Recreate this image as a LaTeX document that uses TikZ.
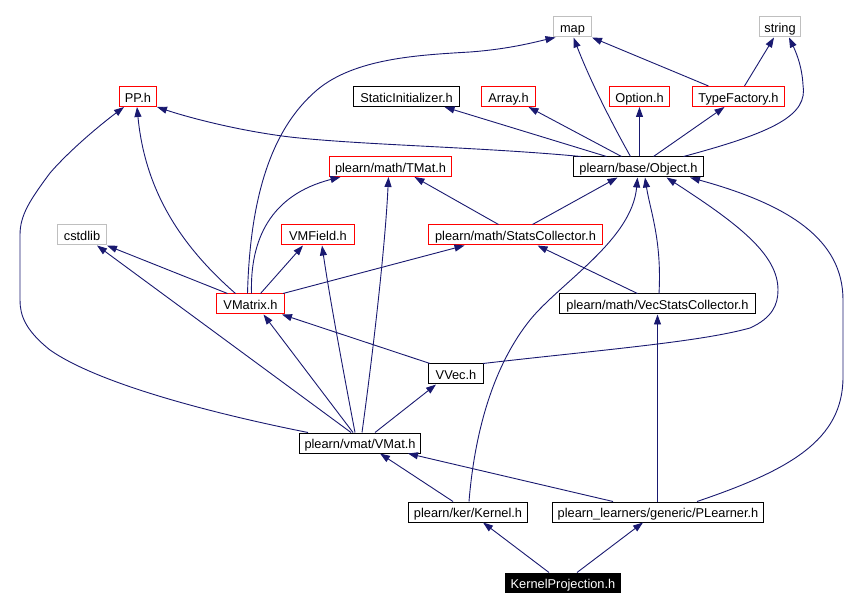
\documentclass[tikz,border=0pt]{standalone}
\usepackage{fontspec}
\setmainfont{Liberation Sans}
\usetikzlibrary{arrows.meta,calc}
\definecolor{edgec}{RGB}{25,25,112}
\definecolor{grayb}{RGB}{191,191,191}
\begin{document}
\begin{tikzpicture}[x=1pt,y=-1pt,
  box/.style={draw, line width=1pt, minimum height=20pt, inner sep=0pt,
    text height=12.6pt, text depth=1pt,
    font=\fontsize{12.8}{14}\selectfont, fill=white},
  redbox/.style={box, draw=red},
  graybox/.style={box, draw=grayb},
  blackbox/.style={box, draw=black},
  selbox/.style={box, draw=black, fill=black, text=white, minimum height=19pt},
  edge/.style={draw=edgec, line width=0.9pt, -{Triangle[length=10pt,width=7pt]}}]
\useasboundingbox (0,0) rectangle (862,609);
% nodes
\node[graybox, minimum width=38pt] (map) at (572.5,27) {map};
\node[graybox, minimum width=41pt] (string) at (780,27) {string};
\node[redbox, minimum width=37pt] (pp) at (138,96.5) {PP.h};
\node[blackbox, minimum width=106pt] (static) at (406.5,96.5) {StaticInitializer.h};
\node[redbox, minimum width=54pt] (array) at (508.5,96.5) {Array.h};
\node[redbox, minimum width=60pt] (option) at (639.5,96.5) {Option.h};
\node[redbox, minimum width=92pt] (tf) at (738.5,96.5) {TypeFactory.h};
\node[blackbox, minimum width=130pt] (obj) at (638.5,167) {plearn/base/Object.h};
\node[redbox, minimum width=122pt] (tmat) at (390.5,166.5) {plearn/math/TMat.h};
\node[graybox, minimum width=49pt] (cstdlib) at (82,235) {cstdlib};
\node[redbox, minimum width=73pt] (vmfield) at (318,235) {VMField.h};
\node[redbox, minimum width=174pt] (stats) at (515.5,235) {plearn/math/StatsCollector.h};
\node[redbox, minimum width=68pt] (vmatrix) at (250.5,304) {VMatrix.h};
\node[blackbox, minimum width=196pt] (vsc) at (657.5,304) {plearn/math/VecStatsCollector.h};
\node[blackbox, minimum width=55pt] (vvec) at (456,374) {VVec.h};
\node[blackbox, minimum width=121pt] (vmat) at (360,443) {plearn/vmat/VMat.h};
\node[blackbox, minimum width=119pt] (kernel) at (468,512) {plearn/ker/Kernel.h};
\node[blackbox, minimum width=211pt] (plearner) at (658,512) {plearn\_learners/generic/PLearner.h};
\node[selbox, minimum width=115pt] (kp) at (563,582.5) {KernelProjection.h};
% edges
\draw[edge] ($(kp.north)+(-14,0)$) -- ($(kernel.south)+(15,0)$);
\draw[edge] ($(kp.north)+(14,0)$) -- ($(plearner.south)+(-15,0)$);
\draw[edge] ($(kernel.north)+(-15,0)$) -- ($(vmat.south)+(20,0)$);
\draw[edge] ($(kernel.north)+(1,0)$) .. controls (474,440) and (490,370) .. (530,320)
  .. controls (560,283) and (632,240) .. ($(obj.south)+(-1,0)$);
\draw[edge] ($(plearner.north)+(-45,0)$) -- ($(vmat.south)+(48,0)$);
\draw[edge] ($(plearner.north)+(-0.5,0)$) -- (vsc.south);
\draw[edge] ($(plearner.north)+(39,0)$) .. controls (790,470) and (843,440) .. (843,377)
  -- (843,300) .. controls (843,240) and (790,205) .. ($(obj.south east)+(-14,0)$);
\draw[edge] ($(vmat.north)+(-52,0)$) .. controls (220,415) and (100,385) .. (50,350)
  .. controls (25,330) and (20,315) .. (20,300) -- (20,235)
  .. controls (20,215) and (30,200) .. (50,173)
  .. controls (70,150) and (100,125) .. ($(pp.south)+(-14,0)$);
\draw[edge] ($(vmat.north)+(-9,0)$) -- ($(cstdlib.south)+(15,0)$);
\draw[edge] ($(vmatrix.north)+(-23,0)$) -- (cstdlib.south east);
\draw[edge] ($(vmat.north)+(-7,0)$) -- ($(vmatrix.south)+(13,0)$);
\draw[edge] ($(vmat.north)+(-5,0)$) .. controls (345,380) and (330,300) .. ($(vmfield.south)+(4,0)$);
\draw[edge] ($(vmat.north)+(2,0)$) .. controls (372,360) and (385,250) .. ($(tmat.south)+(-2,0)$);
\draw[edge] ($(vmat.north)+(15,0)$) -- ($(vvec.south)+(-20,0)$);
\draw[edge] ($(vvec.north west)+(2,0)$) -- ($(vmatrix.south east)+(-3,0)$);
\draw[edge] ($(vvec.north east)+(-1,0)$) .. controls (600,350) and (700,342) .. (750,328)
  .. controls (772,318) and (778,305) .. (778,290)
  .. controls (778,255) and (740,225) .. ($(obj.south)+(28,0)$);
\draw[edge] ($(vmatrix.north east)+(-2,0)$) -- ($(stats.south)+(-51,0)$);
\draw[edge] ($(vmatrix.north)+(10,0)$) -- ($(vmfield.south)+(-15,0)$);
\draw[edge] ($(vmatrix.north)+(1,0)$) .. controls (250,240) and (270,195) .. ($(tmat.south)+(-50,0)$);
\draw[edge] ($(vmatrix.north)+(-3,0)$) .. controls (250,200) and (270,130) .. (317,90)
  .. controls (355,58) and (420,55) .. (470,52)
  .. controls (510,49) and (535,42) .. ($(map.south)+(-17,0)$);
\draw[edge] ($(vmatrix.north)+(-15,0)$) .. controls (180,245) and (145,190) .. ($(pp.south)+(-1,0)$);
\draw[edge] ($(vsc.north)+(-20,0)$) -- ($(stats.south)+(22,0)$);
\draw[edge] ($(vsc.north)+(1.5,0)$) .. controls (662,240) and (650,210) .. ($(obj.south)+(6.5,0)$);
\draw[edge] ($(stats.north)+(-17,0)$) -- ($(tmat.south)+(24,0)$);
\draw[edge] ($(stats.north)+(17,0)$) -- ($(obj.south)+(-21,0)$);
\draw[edge] ($(obj.north west)+(8,0)$) .. controls (480,147) and (360,145) .. (290,137)
  .. controls (240,131) and (190,118) .. (pp.south east);
\draw[edge] ($(obj.north)+(-32,0)$) -- ($(static.south)+(38,0)$);
\draw[edge] ($(obj.north)+(-17,0)$) -- ($(array.south)+(20,0)$);
\draw[edge] ($(obj.north)+(-8,0)$) .. controls (610,120) and (590,80) .. ($(map.south)+(1,0)$);
\draw[edge] ($(obj.north)+(1,0)$) -- (option.south);
\draw[edge] ($(obj.north)+(15,0)$) -- ($(tf.south)+(-14,0)$);
\draw[edge] ($(obj.north)+(45,0)$) .. controls (775,132) and (808,115) .. (803,85)
  .. controls (802,65) and (795,50) .. ($(string.south)+(9,0)$);
\draw[edge] ($(tf.north)+(-30,0)$) -- (map.south east);
\draw[edge] ($(tf.north)+(6,0)$) -- ($(string.south)+(-6,0)$);
\end{tikzpicture}
\end{document}
